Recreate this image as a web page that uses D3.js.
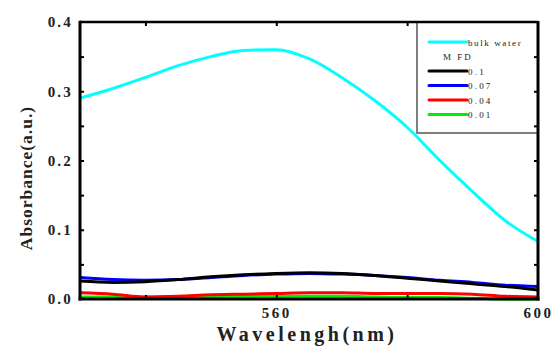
<!DOCTYPE html>
<html>
<head>
<meta charset="utf-8">
<script src="https://cdn.jsdelivr.net/npm/d3@7"></script>
<style>
  body { margin: 0; background: #fff; }
  text { font-family: "Liberation Serif", "DejaVu Serif", serif; }
</style>
</head>
<body>
<svg id="chart" width="555" height="346"></svg>
<script>
// wavelengths (nm) sampled every 5 nm
const wavelengths = [530, 535, 540, 545, 550, 555, 560, 565, 570, 575, 580, 585, 590, 595, 600];

// absorbance values
const bulkWater = [0.290, 0.304, 0.320, 0.337, 0.350, 0.359, 0.360, 0.347, 0.320, 0.287, 0.248, 0.200, 0.155, 0.113, 0.083];
const mfd010 = [0.026, 0.024, 0.025, 0.028, 0.032, 0.035, 0.037, 0.038, 0.037, 0.034, 0.030, 0.026, 0.022, 0.018, 0.013];
const mfd007 = [0.031, 0.028, 0.027, 0.028, 0.031, 0.034, 0.036, 0.037, 0.036, 0.034, 0.031, 0.027, 0.024, 0.020, 0.018];
const mfd004 = [0.009, 0.007, 0.003, 0.004, 0.006, 0.007, 0.008, 0.009, 0.009, 0.008, 0.008, 0.008, 0.007, 0.004, 0.003];
const mfd001 = [0.003, 0.003, 0.003, 0.003, 0.003, 0.004, 0.004, 0.004, 0.004, 0.003, 0.002, 0.002, 0.001, 0.000, 0.000];

const xTickLabels = [560, 600];
const xMinorTicks = [540, 560, 580];
const yTickLabels = [0.0, 0.1, 0.2, 0.3, 0.4];
const yMinorTicks = [0.05, 0.1, 0.15, 0.2, 0.25, 0.3, 0.35];

// series in drawing order (black goes over blue, red over green)
const series = [
  { name: 'bulk water', values: bulkWater, color: '#00ffff' },
  { name: '0.01', values: mfd001, color: '#00ee00' },
  { name: '0.04', values: mfd004, color: '#ff0000' },
  { name: '0.07', values: mfd007, color: '#0000ff' },
  { name: '0.1', values: mfd010, color: '#000000' }
];
const legendItems = ['bulk water', 'MFD', '0.1', '0.07', '0.04', '0.01'];

const margin = { left: 80, right: 17, top: 22, bottom: 47 };
const width = 555, height = 346;

const svg = d3.select('#chart');

const x = d3.scaleLinear().domain([530, 600]).range([margin.left, width - margin.right]);
const y = d3.scaleLinear().domain([0, 0.4]).range([height - margin.bottom, margin.top]);

// curves
const line = d3.line()
  .x((d, i) => x(wavelengths[i]))
  .y((d) => y(d))
  .curve(d3.curveMonotoneX);

svg.append('g')
  .selectAll('path')
  .data(series)
  .join('path')
  .attr('d', (s) => line(s.values))
  .attr('fill', 'none')
  .attr('stroke', (s) => s.color)
  .attr('stroke-width', 3);

// legend box
const lgX = 417, lgY = margin.top, lgW = x(600) - 417, lgH = 111;
svg.append('rect')
  .attr('x', lgX).attr('y', lgY)
  .attr('width', lgW).attr('height', lgH)
  .attr('fill', 'none')
  .attr('stroke', '#555')
  .attr('stroke-width', 1.5);

const lgRows = [42, 56, 71, 85.5, 100, 114.5];
const colorOf = (name) => (series.find((s) => s.name === name) || {}).color;
legendItems.forEach((name, i) => {
  const yy = lgRows[i];
  if (name === 'MFD') {
    svg.append('text')
      .attr('x', 443).attr('y', yy + 3.5)
      .attr('font-size', 9)
      .attr('letter-spacing', 2)
      .attr('fill', '#222')
      .text('M FD');
    return;
  }
  svg.append('line')
    .attr('x1', 429).attr('x2', 467)
    .attr('y1', yy).attr('y2', yy)
    .attr('stroke', colorOf(name))
    .attr('stroke-width', 3)
    .attr('stroke-linecap', 'round');
  svg.append('text')
    .attr('x', 468).attr('y', yy + 3.5)
    .attr('font-size', 9)
    .attr('letter-spacing', name === 'bulk water' ? 1.6 : 2.2)
    .attr('fill', '#222')
    .text(name);
});

// frame
const x0 = x(530), x1 = x(600), y0 = y(0), y1 = y(0.4);
svg.append('line').attr('x1', x0).attr('x2', x1).attr('y1', y1).attr('y2', y1)
  .attr('stroke', '#000').attr('stroke-width', 2.5);
svg.append('line').attr('x1', x1).attr('x2', x1).attr('y1', y1 - 1).attr('y2', y0 + 1.5)
  .attr('stroke', '#000').attr('stroke-width', 3);
svg.append('line').attr('x1', x0).attr('x2', x0).attr('y1', y1 - 1.2).attr('y2', y0 + 1.5)
  .attr('stroke', '#000').attr('stroke-width', 3);
svg.append('line').attr('x1', x0 - 1.5).attr('x2', x1 + 1.5).attr('y1', y0).attr('y2', y0)
  .attr('stroke', '#000').attr('stroke-width', 3);

// inward ticks via axes
const tickLen = 4;
svg.append('g')
  .attr('transform', `translate(${x0},0)`)
  .call(d3.axisRight(y).tickValues(yMinorTicks).tickSize(tickLen).tickFormat(''))
  .call((g) => g.select('.domain').remove());
svg.append('g')
  .attr('transform', `translate(${x1},0)`)
  .call(d3.axisLeft(y).tickValues(yMinorTicks).tickSize(tickLen).tickFormat(''))
  .call((g) => g.select('.domain').remove());
svg.append('g')
  .attr('transform', `translate(0,${y1})`)
  .call(d3.axisBottom(x).tickValues(xMinorTicks).tickSize(tickLen).tickFormat(''))
  .call((g) => g.select('.domain').remove());
svg.append('g')
  .attr('transform', `translate(0,${y0})`)
  .call(d3.axisTop(x).tickValues(xMinorTicks).tickSize(tickLen).tickFormat(''))
  .call((g) => g.select('.domain').remove());
svg.selectAll('.tick line').attr('stroke', '#000').attr('stroke-width', 2);

// tick labels
const yLab = svg.append('g')
  .attr('transform', `translate(${x0},0)`)
  .call(d3.axisLeft(y).tickValues(yTickLabels).tickSize(0).tickPadding(7).tickFormat(d3.format('.1f')));
yLab.select('.domain').remove();
yLab.selectAll('text')
  .attr('font-family', '"Liberation Serif", serif')
  .attr('font-size', 15)
  .attr('font-weight', 'bold')
  .attr('letter-spacing', 2.2)
  .attr('fill', '#222');

const xLab = svg.append('g')
  .attr('transform', `translate(0,${y0})`)
  .call(d3.axisBottom(x).tickValues(xTickLabels).tickSize(0).tickPadding(8).tickFormat(d3.format('d')));
xLab.select('.domain').remove();
xLab.selectAll('text')
  .attr('font-family', '"Liberation Serif", serif')
  .attr('font-size', 15)
  .attr('font-weight', 'bold')
  .attr('letter-spacing', 2.5)
  .attr('fill', '#222');

// axis titles
svg.append('text')
  .attr('x', 307).attr('y', 341)
  .attr('text-anchor', 'middle')
  .attr('font-size', 20)
  .attr('font-weight', 'bold')
  .attr('letter-spacing', 3.5)
  .attr('fill', '#222')
  .text('Wavelengh(nm)');

svg.append('text')
  .attr('transform', 'translate(32,178) rotate(-90)')
  .attr('text-anchor', 'middle')
  .attr('font-size', 17.5)
  .attr('font-weight', 'bold')
  .attr('letter-spacing', 1)
  .attr('fill', '#222')
  .text('Absorbance(a.u.)');
</script>
</body>
</html>
